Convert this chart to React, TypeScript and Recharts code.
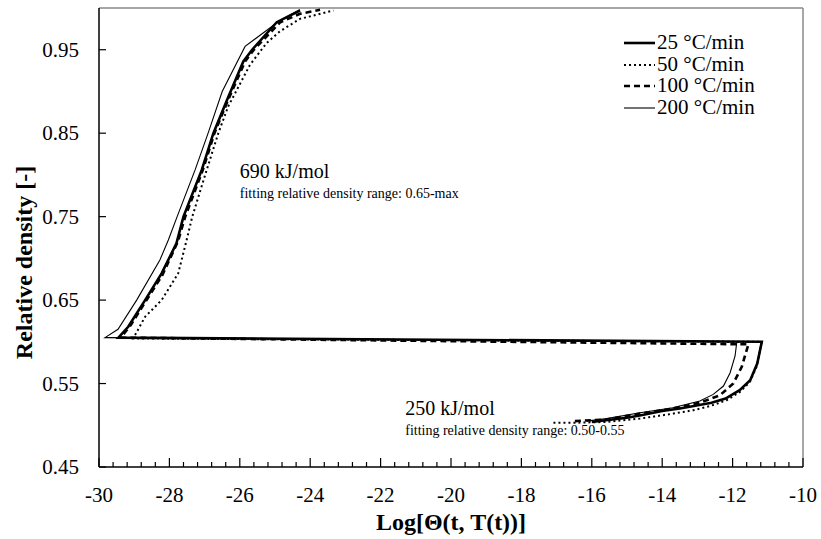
import React from "react";
import {
  LineChart,
  Line,
  XAxis,
  YAxis,
  Legend,
  ReferenceLine,
  ReferenceDot,
} from "recharts";

// x = Log[Θ(t, T(t))], y = relative density; lower branch (250 kJ/mol) first, then upper branch (690 kJ/mol)
const rate25X = [
  -16.0, -15.6, -15.0, -14.6, -14.0, -13.5, -13.1, -12.6, -12.2, -11.8, -11.5, -11.3, -11.17,
  -29.45, -29.17, -28.69, -28.22, -27.8, -27.6, -27.08, -26.75, -26.36, -25.9, -25.65, -24.95, -24.29,
];
const rate25Y = [
  0.504, 0.506, 0.509, 0.512, 0.517, 0.52, 0.523, 0.527, 0.532, 0.542, 0.554, 0.574, 0.6,
  0.605, 0.618, 0.65, 0.682, 0.718, 0.75, 0.806, 0.85, 0.89, 0.936, 0.95, 0.983, 0.997,
];

const rate50X = [
  -17.09, -16.5, -15.58, -14.63, -13.68, -13.12, -12.64, -12.17, -11.79, -11.51, -11.32, -11.22, -11.17,
  -29.03, -28.69, -28.22, -27.75, -27.51, -27.35, -26.94, -26.61, -26.33, -25.71, -25.24, -24.86, -24.29, -23.34,
];
const rate50Y = [
  0.503, 0.503, 0.504, 0.508, 0.514, 0.518, 0.523, 0.53, 0.54, 0.552, 0.57, 0.59, 0.6,
  0.604, 0.63, 0.65, 0.682, 0.722, 0.75, 0.806, 0.85, 0.882, 0.932, 0.958, 0.972, 0.987, 0.997,
];

const rate100X = [
  -16.48, -15.58, -14.63, -13.7, -12.93, -12.36, -11.98, -11.74, -11.6, -11.55,
  -29.38, -29.1, -28.65, -28.2, -27.76, -27.55, -27.05, -26.72, -26.33, -25.85, -25.6, -24.85, -24.29, -23.72,
];
const rate100Y = [
  0.505, 0.507, 0.514, 0.52, 0.527, 0.536, 0.55, 0.57, 0.59, 0.597,
  0.605, 0.62, 0.65, 0.68, 0.72, 0.75, 0.806, 0.85, 0.89, 0.936, 0.95, 0.983, 0.993, 0.998,
];

const rate200X = [
  -16.15, -15.58, -14.63, -13.7, -12.93, -12.55, -12.26, -12.07, -11.93, -11.88,
  -29.83, -29.46, -28.93, -28.27, -28.03, -27.78, -27.27, -26.9, -26.5, -25.85, -24.86, -24.29,
];
const rate200Y = [
  0.505, 0.508, 0.515, 0.521, 0.529, 0.537, 0.547, 0.563, 0.583, 0.6,
  0.605, 0.615, 0.65, 0.698, 0.722, 0.75, 0.806, 0.85, 0.9, 0.954, 0.985, 0.998,
];

const seriesNames = ["25 °C/min", "50 °C/min", "100 °C/min", "200 °C/min"];

const xMajorTicks = [-30, -28, -26, -24, -22, -20, -18, -16, -14, -12, -10];
const yTicks = [0.45, 0.55, 0.65, 0.75, 0.85, 0.95];

// minor ticks every 0.4 between the labelled ones
const xAllTicks: number[] = [];
xMajorTicks.forEach((t, i) => {
  xAllTicks.push(t);
  if (i < xMajorTicks.length - 1) {
    for (let k = 1; k < 5; k++) xAllTicks.push(+(t + k * 0.4).toFixed(1));
  }
});

const zip = (xs: number[], ys: number[]) => xs.map((x, i) => ({ x, y: ys[i] }));

const styles = [
  { width: 2.6, dash: undefined },
  { width: 2, dash: "2 3" },
  { width: 2.6, dash: "6 4" },
  { width: 1.1, dash: undefined },
];

const series = [
  { name: seriesNames[0], data: zip(rate25X, rate25Y), ...styles[0] },
  { name: seriesNames[1], data: zip(rate50X, rate50Y), ...styles[1] },
  { name: seriesNames[2], data: zip(rate100X, rate100Y), ...styles[2] },
  { name: seriesNames[3], data: zip(rate200X, rate200Y), ...styles[3] },
];

const FONT = "Liberation Serif, Times New Roman, serif";

const XTick = (props: any) => {
  const { x, y, payload } = props;
  const v = payload.value;
  const r = Math.round(v);
  const major = Math.abs(v - r) < 1e-6 && r % 2 === 0;
  return (
    <g>
      <line x1={x} x2={x} y1={y} y2={y - (major ? 9 : 5)} stroke="#000" strokeWidth={1.2} />
      {major && (
        <text x={x} y={y + 35} textAnchor="middle" fontSize={21} fontFamily={FONT} fill="#000">
          {r}
        </text>
      )}
    </g>
  );
};

const YTick = (props: any) => {
  const { x, y, payload } = props;
  return (
    <g>
      <line x1={x} x2={x + 7} y1={y} y2={y} stroke="#000" strokeWidth={1.2} />
      <text x={x - 20} y={y + 7} textAnchor="end" fontSize={21} fontFamily={FONT} fill="#000">
        {payload.value.toFixed(2)}
      </text>
    </g>
  );
};

const LegendBox = () => (
  <div style={{ fontFamily: FONT, fontSize: 21, color: "#000" }}>
    {series.map((s) => (
      <div key={s.name} style={{ display: "flex", alignItems: "center", height: 21.7 }}>
        <svg width={33} height={10}>
          <line
            x1={0}
            x2={31}
            y1={5}
            y2={5}
            stroke="#000"
            strokeWidth={s.width}
            strokeDasharray={s.dash}
          />
        </svg>
        <span style={{ lineHeight: "21.7px" }}>{s.name}</span>
      </div>
    ))}
  </div>
);

const note = (big: string, small: string) => (p: any) => (
  <g fontFamily={FONT} fill="#000">
    <text x={p.cx} y={p.cy} fontSize={20}>
      {big}
    </text>
    <text x={p.cx} y={p.cy + 20} fontSize={14}>
      {small}
    </text>
  </g>
);

export default function App() {
  return (
    <div style={{ position: "absolute", left: 0, top: 0, fontFamily: FONT, background: "#fff" }}>
      <LineChart width={821} height={539} margin={{ top: 8, right: 18, left: 0, bottom: 0 }}>
        <XAxis
          type="number"
          dataKey="x"
          domain={[-30, -10]}
          ticks={xAllTicks}
          interval={0}
          allowDataOverflow
          height={72}
          tickSize={0}
          tickMargin={0}
          tickLine={false}
          tick={<XTick />}
          axisLine={{ stroke: "#000", strokeWidth: 1.5 }}
          label={(p: any) => {
            const vb = p.viewBox;
            return (
              <text
                x={vb.x + vb.width / 2}
                y={vb.y + 63}
                textAnchor="middle"
                fontSize={24}
                fontWeight="bold"
                fontFamily={FONT}
                fill="#000"
              >
                Log[Θ(t, T(t))]
              </text>
            );
          }}
        />
        <YAxis
          type="number"
          dataKey="y"
          domain={[0.45, 1.0]}
          ticks={yTicks}
          interval={0}
          allowDataOverflow
          width={99}
          tickSize={0}
          tickMargin={0}
          tickLine={false}
          tick={<YTick />}
          axisLine={{ stroke: "#000", strokeWidth: 1.5 }}
          label={(p: any) => {
            const vb = p.viewBox;
            const cx = 24;
            const cy = vb.y + vb.height / 2 + 25;
            return (
              <text
                x={cx}
                y={cy}
                transform={`rotate(-90 ${cx} ${cy})`}
                textAnchor="middle"
                dominantBaseline="central"
                fontSize={24}
                fontWeight="bold"
                fontFamily={FONT}
                fill="#000"
              >
                Relative density [-]
              </text>
            );
          }}
        />
        <ReferenceLine y={1.0} stroke="#8a8a8a" strokeWidth={1.5} />
        <ReferenceLine x={-10} stroke="#8a8a8a" strokeWidth={1.5} />
        {series.map((s) => (
          <Line
            key={s.name}
            name={s.name}
            data={s.data}
            dataKey="y"
            type="linear"
            stroke="#000"
            strokeWidth={s.width}
            strokeDasharray={s.dash}
            dot={false}
            activeDot={false}
            isAnimationActive={false}
          />
        ))}
        <ReferenceDot
          x={-26.0}
          y={0.796}
          r={0}
          shape={note("690 kJ/mol", "fitting relative density range: 0.65-max")}
        />
        <ReferenceDot
          x={-21.3}
          y={0.512}
          r={0}
          shape={note("250 kJ/mol", "fitting relative density range: 0.50-0.55")}
        />
        <Legend
          layout="vertical"
          align="center"
          verticalAlign="middle"
          wrapperStyle={{ left: 624, top: 32, width: "auto", height: "auto" }}
          content={<LegendBox />}
        />
      </LineChart>
    </div>
  );
}
